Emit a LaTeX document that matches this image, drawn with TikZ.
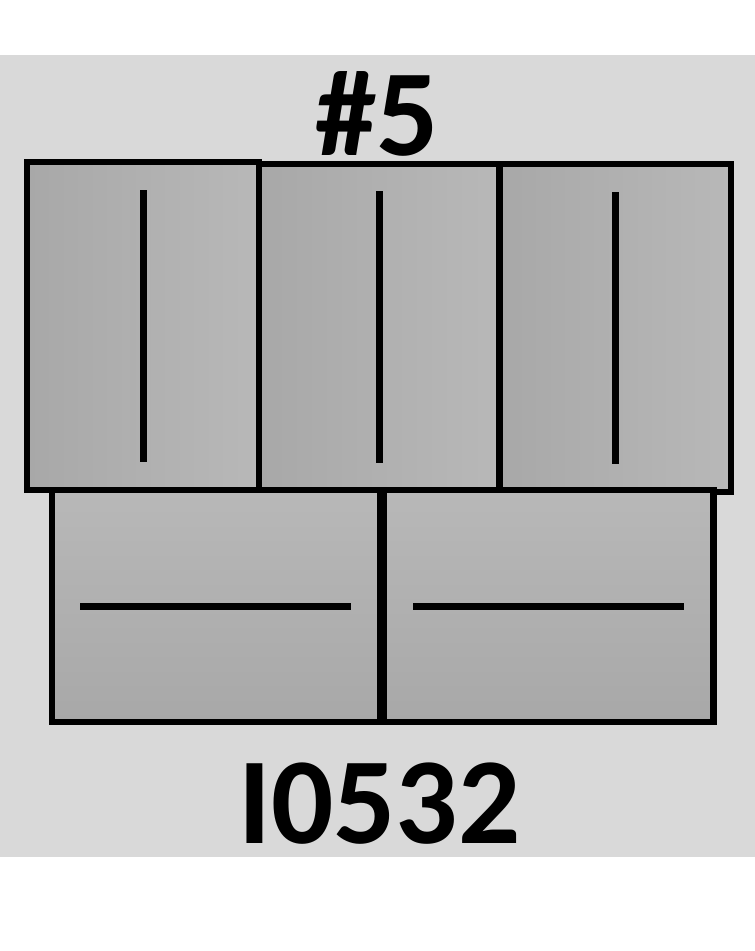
\documentclass[tikz,border=0pt]{standalone}
\usepackage{fontspec}
\setmainfont{Carlito}
\definecolor{bggray}{HTML}{D9D9D9}
\definecolor{panelA}{HTML}{A8A8A8}
\definecolor{panelB}{HTML}{B8B8B8}
\begin{document}
\begin{tikzpicture}
  [x=1pt,y=-1pt,
   every node/.style={inner sep=0pt,outer sep=0pt},
   panel/.style={rectangle,draw=black,line width=6.5pt,left color=panelA,right color=panelB},
   flatpanel/.style={rectangle,draw=black,line width=6.5pt,top color=panelB,bottom color=panelA},
   bar/.style={line width=7pt},
   label/.style={anchor=base,font=\fontsize{123}{123}\selectfont\bfseries}]

  \useasboundingbox (0,0) rectangle (755,951);
  \fill[bggray] (0,55) rectangle (755,857);

  % upper row
  \node[panel,minimum width=232pt,minimum height=328pt] (p1) at (143,326) {};
  \node[panel,minimum width=240.5pt,minimum height=326pt] (p2) at (379.25,327) {};
  \node[panel,minimum width=231.5pt,minimum height=328pt] (p3) at (615.25,328) {};
  % lower row
  \node[flatpanel,minimum width=328pt,minimum height=232pt] (b1) at (216,606) {};
  \node[flatpanel,minimum width=329.5pt,minimum height=232pt] (b2) at (548.75,606) {};

  \foreach \p in {p1,p2,p3}
    \draw[bar] (\p.center) ++(0,-136) -- ++(0,272);
  \foreach \b/\dx in {b1/-0.5,b2/-0.25}
    \draw[bar] (\b.center) ++(-135.5+\dx,0.5) -- ++(271,0);

  \node[label] (num) at (377,155) {\#5};
  \node[label] (code) at (379.5,843) {I0532};
\end{tikzpicture}
\end{document}
